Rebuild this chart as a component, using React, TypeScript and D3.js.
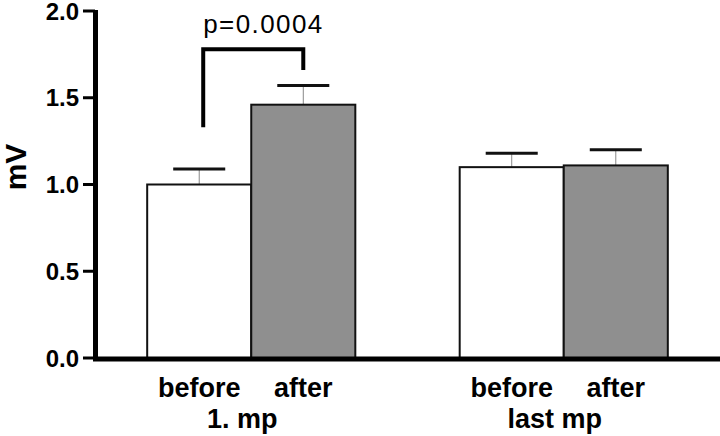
import React, { useEffect, useRef } from "react";
import * as d3 from "d3";

const groups = ["1. mp", "last mp"];
const conditions = ["before", "after"];
const means = [
  [1.0, 1.46],
  [1.1, 1.11],
];
const sems = [
  [0.09, 0.11],
  [0.08, 0.09],
];
const yTicks = [0, 0.5, 1.0, 1.5, 2.0];
const pLabel = "p=0.0004";
const bracketTop = 1.78;
const bracketLegs = [1.33, 1.66];

const W = 720;
const H = 436;
const FONT = "'Liberation Sans', Arial, Helvetica, sans-serif";

export default function App() {
  const ref = useRef<SVGSVGElement>(null);

  useEffect(() => {
    const svg = d3.select(ref.current);
    svg.selectAll("*").remove();

    const y = d3.scaleLinear().domain([0, 2]).range([358, 11]);
    const x0 = d3
      .scaleBand()
      .domain(groups)
      .range([95, 720])
      .paddingInner(0.334)
      .paddingOuter(0.167);
    const x1 = d3
      .scaleBand()
      .domain(conditions)
      .range([0, x0.bandwidth()]);
    const fills = ["#ffffff", "#8f8f8f"];

    // bars + error bars
    groups.forEach((g, gi) => {
      conditions.forEach((c, ci) => {
        const bx = x0(g)! + x1(c)!;
        const bw = x1.bandwidth();
        const m = means[gi][ci];
        const e = sems[gi][ci];
        svg
          .append("line")
          .attr("x1", bx + bw / 2)
          .attr("x2", bx + bw / 2)
          .attr("y1", y(m))
          .attr("y2", y(m + e))
          .attr("stroke", "#888")
          .attr("stroke-width", 1);
        svg
          .append("line")
          .attr("x1", bx + bw / 4)
          .attr("x2", bx + (bw * 3) / 4)
          .attr("y1", y(m + e))
          .attr("y2", y(m + e))
          .attr("stroke", "#111")
          .attr("stroke-width", 3);
        svg
          .append("rect")
          .attr("x", bx)
          .attr("y", y(m))
          .attr("width", bw)
          .attr("height", y(0) - y(m))
          .attr("fill", fills[ci])
          .attr("stroke", "#111")
          .attr("stroke-width", 2);
        svg
          .append("text")
          .attr("x", bx + bw / 2)
          .attr("y", 397)
          .attr("text-anchor", "middle")
          .attr("font-family", FONT)
          .attr("font-weight", "bold")
          .attr("font-size", 27)
          .text(c);
      });
      // group label, sits a little left of the group centre
      svg
        .append("text")
        .attr("x", x0(g)! + x0.bandwidth() / 2 - 9)
        .attr("y", 428)
        .attr("text-anchor", "middle")
        .attr("font-family", FONT)
        .attr("font-weight", "bold")
        .attr("font-size", 27)
        .text(g);
    });

    // axes
    svg
      .append("line")
      .attr("x1", 95.5)
      .attr("x2", 95.5)
      .attr("y1", y(2) - 1)
      .attr("y2", y(0) + 3)
      .attr("stroke", "#000")
      .attr("stroke-width", 5);
    svg
      .append("line")
      .attr("x1", 93)
      .attr("x2", W)
      .attr("y1", y(0) + 1)
      .attr("y2", y(0) + 1)
      .attr("stroke", "#000")
      .attr("stroke-width", 5);

    yTicks.forEach((t) => {
      svg
        .append("line")
        .attr("x1", 83)
        .attr("x2", 95)
        .attr("y1", y(t))
        .attr("y2", y(t))
        .attr("stroke", "#000")
        .attr("stroke-width", 3);
      svg
        .append("text")
        .attr("x", 79)
        .attr("y", y(t))
        .attr("dy", "0.36em")
        .attr("text-anchor", "end")
        .attr("font-family", FONT)
        .attr("font-weight", "bold")
        .attr("font-size", 24)
        .text(d3.format(".1f")(t));
    });

    svg
      .append("text")
      .attr("transform", `translate(26,${167}) rotate(-90)`)
      .attr("text-anchor", "middle")
      .attr("font-family", FONT)
      .attr("font-weight", "bold")
      .attr("font-size", 30)
      .text("mV");

    // significance bracket
    const g0 = groups[0];
    const lx = x0(g0)! + x1(conditions[0])! + x1.bandwidth() / 2 + 4;
    const rx = x0(g0)! + x1(conditions[1])! + x1.bandwidth() / 2;
    const path = d3.path();
    path.moveTo(lx, y(bracketLegs[0]));
    path.lineTo(lx, y(bracketTop));
    path.lineTo(rx, y(bracketTop));
    path.lineTo(rx, y(bracketLegs[1]));
    svg
      .append("path")
      .attr("d", path.toString())
      .attr("fill", "none")
      .attr("stroke", "#000")
      .attr("stroke-width", 4);
    svg
      .append("text")
      .attr("x", lx)
      .attr("y", 33)
      .attr("font-family", FONT)
      .attr("font-size", 26)
      .attr("textLength", 119)
      .text(pLabel);
  }, []);

  return (
    <svg
      ref={ref}
      width={W}
      height={H}
      style={{ position: "absolute", left: 0, top: 0, background: "#fff" }}
    />
  );
}
